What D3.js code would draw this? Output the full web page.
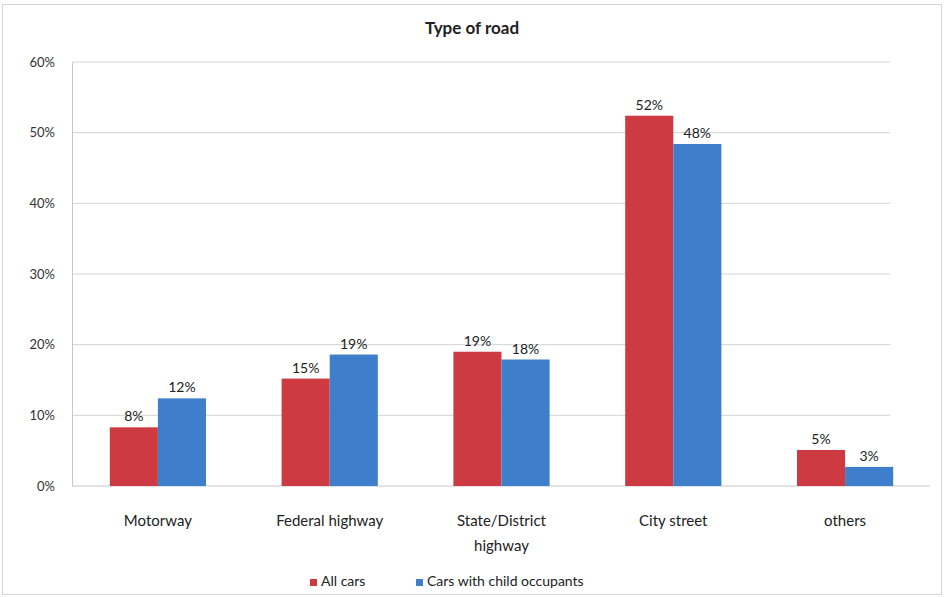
<!DOCTYPE html>
<html><head><meta charset="utf-8">
<script src="https://cdn.jsdelivr.net/npm/d3@7"></script>
<style>body{margin:0;background:#fff}svg{display:block}text{font-family:Lato,"Open Sans",sans-serif}</style>
</head><body><svg id="c" width="944" height="597"></svg>
<script>
const categories = ["Motorway", "Federal highway", "State/District highway", "City street", "others"];
const categoryLines = [["Motorway"], ["Federal highway"], ["State/District", "highway"], ["City street"], ["others"]];
const seriesNames = ["All cars", "Cars with child occupants"];
const allCars = [8.3, 15.2, 19.0, 52.4, 5.1];
const childCars = [12.4, 18.6, 17.9, 48.4, 2.7];
const yTicks = [0, 10, 20, 30, 40, 50, 60];
const colors = ["#cd3a42", "#3e7ecb"];

const svg = d3.select("#c");
const m = {l: 72, r: 13, t: 62, b: 111};
const W = 944, H = 597;
const x = d3.scaleBand().domain(categories).range([m.l, W - m.r]).paddingInner(0.44).paddingOuter(0.22);
const xs = d3.scaleBand().domain(seriesNames).range([0, x.bandwidth()]);
const y = d3.scaleLinear().domain([0, 60]).range([H - m.b, m.t]);

svg.append("rect").attr("x", 2.5).attr("y", 4.5).attr("width", 939).attr("height", 590).attr("fill", "none").attr("stroke", "#d6d6d6");

svg.append("text").attr("x", 472).attr("y", 34).attr("text-anchor", "middle").attr("font-size", 17).attr("font-weight", "bold").attr("fill", "#222").text("Type of road");

svg.append("g").selectAll("line").data(yTicks.filter(d => d > 0)).join("line")
  .attr("x1", m.l).attr("x2", 890).attr("y1", d => y(d)).attr("y2", d => y(d)).attr("stroke", "#d4d4d4");

const yAxis = svg.append("g").attr("transform", `translate(${m.l},0)`)
  .call(d3.axisLeft(y).tickValues(yTicks).tickFormat(d => d + "%").tickSize(0).tickPadding(17));
yAxis.select(".domain").attr("stroke", "#c8c8c8");
yAxis.selectAll("text").attr("font-size", 13).attr("fill", "#333");

svg.append("line").attr("x1", m.l).attr("x2", 930).attr("y1", y(0)).attr("y2", y(0)).attr("stroke", "#c8c8c8");

const data = categories.map((c, i) => ({c, v: [allCars[i], childCars[i]]}));
const g = svg.append("g").selectAll("g").data(data).join("g").attr("transform", d => `translate(${x(d.c)},0)`);
g.selectAll("rect").data(d => d.v.map((v, j) => ({v, s: seriesNames[j], j}))).join("rect")
  .attr("x", d => xs(d.s)).attr("width", xs.bandwidth()).attr("y", d => y(d.v)).attr("height", d => y(0) - y(d.v)).attr("fill", d => colors[d.j]);
g.selectAll("text").data(d => d.v.map((v, j) => ({v, s: seriesNames[j]}))).join("text")
  .attr("x", d => xs(d.s) + xs.bandwidth() / 2).attr("y", d => y(d.v) - 6).attr("text-anchor", "middle").attr("font-size", 14).attr("fill", "#222")
  .text(d => Math.round(d.v) + "%");

const xl = svg.append("g").selectAll("text").data(categories).join("text")
  .attr("x", d => x(d) + x.bandwidth() / 2).attr("y", 526).attr("text-anchor", "middle").attr("font-size", 15).attr("fill", "#222");
xl.selectAll("tspan").data((d, i) => categoryLines[i]).join("tspan")
  .attr("x", function(){ return this.parentNode.getAttribute("x"); }).attr("dy", (d, k) => k === 0 ? 0 : 25).text(d => d);

const lg = svg.append("g").attr("transform", "translate(310,586)");
const lx = [0, 106];
seriesNames.forEach((s, i) => {
  lg.append("rect").attr("x", lx[i]).attr("y", -7).attr("width", 7).attr("height", 7).attr("fill", colors[i]);
  lg.append("text").attr("x", lx[i] + 11).attr("y", 0).attr("font-size", 14).attr("fill", "#222").text(s);
});
</script></body></html>
